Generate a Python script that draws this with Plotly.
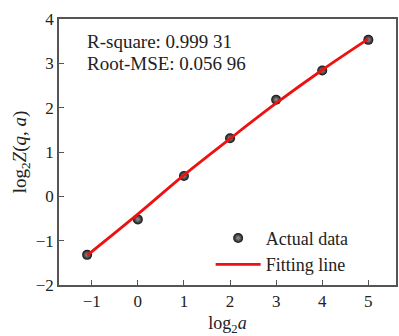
import plotly.graph_objects as go

# Data
log2_a = [-1.1, 0, 1, 2, 3, 4, 5]
log2_Z = [-1.32, -0.52, 0.46, 1.31, 2.18, 2.84, 3.53]
fit_y = [-1.33, -0.40, 0.48, 1.30, 2.10, 2.85, 3.55]
x_ticks = [-1, 0, 1, 2, 3, 4, 5]
y_ticks = [-2, -1, 0, 1, 2, 3, 4]
stats_text = ["R-square: 0.999 31", "Root-MSE: 0.056 96"]

FONT = "Liberation Serif, Times New Roman, serif"

fig = go.Figure()
fig.add_trace(go.Scatter(
    x=log2_a, y=log2_Z, mode="markers", name="Actual data",
    marker=dict(size=10, color="#111111",
                gradient=dict(type="radial", color="#9a9a9a"),
                line=dict(width=0)),
))
fig.add_trace(go.Scatter(
    x=log2_a, y=fit_y, mode="lines", name="Fitting line",
    line=dict(color="#ee1111", width=2.8, shape="spline"),
))

for i, t in enumerate(stats_text):
    fig.add_annotation(
        text=t, xref="paper", yref="paper", x=0.077, y=0.915 - i * 0.081,
        xanchor="left", yanchor="middle", showarrow=False,
        font=dict(family=FONT, size=19, color="#222"),
    )

axis_common = dict(
    showgrid=False, zeroline=False, showline=True, linecolor="#555",
    linewidth=1.5, mirror=True, ticks="inside", ticklen=5, tickwidth=1.2,
    tickcolor="#555", tickfont=dict(family=FONT, size=17, color="#222"),
)

fig.update_layout(
    width=399, height=336,
    margin=dict(l=59, r=1, t=19, b=51),
    paper_bgcolor="white", plot_bgcolor="white",
    font=dict(family=FONT, size=17, color="#222"),
    xaxis=dict(range=[-1.71, 5.60], tickvals=x_ticks,
               ticktext=["\u22121" if v < 0 else str(v) for v in x_ticks],
               title=dict(text="log<sub>2</sub><i>a</i>", standoff=6,
                          font=dict(family=FONT, size=18)),
               **axis_common),
    yaxis=dict(range=[-2, 4], tickvals=y_ticks,
               ticktext=["\u2212" + str(-v) if v < 0 else str(v) for v in y_ticks],
               title=dict(text="log<sub>2</sub><i>Z</i>(<i>q</i>, <i>a</i>)", standoff=4,
                          font=dict(family=FONT, size=19)),
               **axis_common),
    showlegend=True,
    legend=dict(x=0.45, y=0.245, xanchor="left", yanchor="top",
                bgcolor="rgba(0,0,0,0)", itemwidth=45,
                font=dict(family=FONT, size=18, color="#222"),
                tracegroupgap=0),
)

fig.write_html("out.html")
